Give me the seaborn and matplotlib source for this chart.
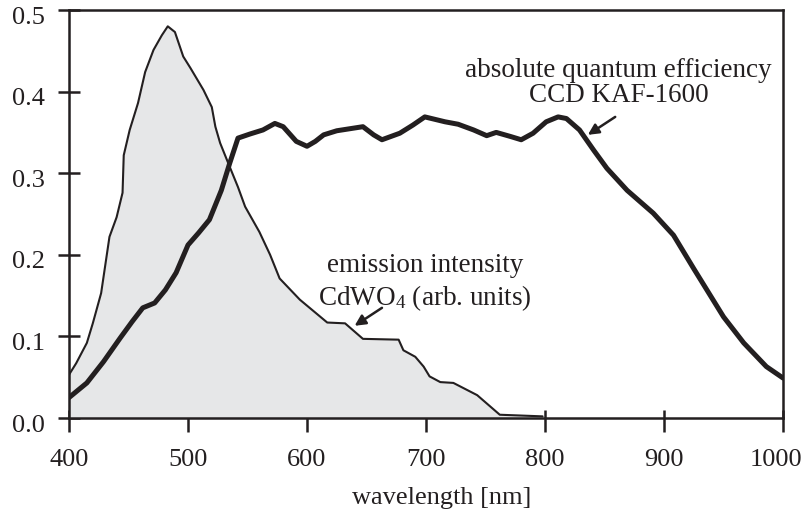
import matplotlib
matplotlib.use("Agg")
import matplotlib.pyplot as plt
import matplotlib.transforms as mtransforms
import seaborn as sns
import pandas as pd

# --- data ---
em_wl = [400, 406, 415, 420, 427, 434, 440, 445, 446, 451, 458, 464, 471, 478, 483,
         489, 496, 502, 513, 520, 523, 527, 535, 542, 548, 560, 569, 577, 594, 617,
         632, 647, 677, 681, 691, 698, 703, 712, 723, 743, 762, 798]
em_val = [0.053, 0.067, 0.092, 0.116, 0.153, 0.222, 0.246, 0.276, 0.322, 0.353, 0.386,
          0.424, 0.451, 0.469, 0.480, 0.473, 0.443, 0.429, 0.402, 0.381, 0.357, 0.337,
          0.308, 0.283, 0.259, 0.228, 0.200, 0.171, 0.145, 0.117, 0.116, 0.097, 0.096,
          0.083, 0.075, 0.063, 0.051, 0.044, 0.043, 0.028, 0.004, 0.002]

qe_wl = [400, 415, 429, 443, 453, 462, 472, 481, 490, 500, 509, 518, 528, 535, 542,
         552, 563, 573, 580, 591, 600, 607, 614, 625, 647, 656, 663, 678, 689, 699,
         716, 727, 740, 751, 759, 771, 780, 790, 801, 811, 818, 829, 841, 852, 869,
         891, 908, 925, 950, 967, 986, 1000]
qe_val = [0.025, 0.043, 0.069, 0.098, 0.118, 0.135, 0.141, 0.157, 0.178, 0.212, 0.227,
          0.243, 0.279, 0.312, 0.343, 0.348, 0.353, 0.361, 0.357, 0.339, 0.333, 0.339,
          0.347, 0.352, 0.357, 0.347, 0.341, 0.349, 0.359, 0.369, 0.363, 0.360, 0.353,
          0.346, 0.350, 0.345, 0.341, 0.349, 0.363, 0.369, 0.367, 0.353, 0.328, 0.306,
          0.279, 0.251, 0.224, 0.183, 0.124, 0.092, 0.063, 0.049]

x_ticks = [400, 500, 600, 700, 800, 900, 1000]
y_ticks = [0.0, 0.1, 0.2, 0.3, 0.4, 0.5]
x_label = "wavelength [nm]"

INK = "#231f20"
FILL = "#e6e7e8"

sns.set_style("ticks")
plt.rcParams["font.family"] = ["Liberation Serif", "DejaVu Serif"]
plt.rcParams["mathtext.fontset"] = "custom"
plt.rcParams["mathtext.rm"] = "Liberation Serif"
plt.rcParams["mathtext.it"] = "Liberation Serif:italic"
plt.rcParams["text.color"] = INK
plt.rcParams["axes.labelcolor"] = INK

em_df = pd.DataFrame({"wl": em_wl, "val": em_val})
qe_df = pd.DataFrame({"wl": qe_wl, "val": qe_val})

fig = plt.figure(figsize=(8.04, 5.15), dpi=100)
ax = fig.add_axes([69 / 804, 1 - 418 / 515, (783 - 69) / 804, (418 - 10) / 515])

ax.fill_between(em_df["wl"], 0, em_df["val"], color=FILL, lw=0, zorder=1)
sns.lineplot(data=em_df, x="wl", y="val", ax=ax, color=INK, lw=1.5,
             sort=False, estimator=None, zorder=2)
sns.lineplot(data=qe_df, x="wl", y="val", ax=ax, color=INK, lw=3.6,
             sort=False, estimator=None, zorder=3)

ax.set_xlim(400, 1000)
ax.set_ylim(0, 0.5)
ax.set_xticks(x_ticks)
ax.set_xticks(x_ticks, minor=True)
ax.xaxis.remove_overlapping_locs = False
ax.set_yticks(y_ticks)
ax.set_yticklabels([f"{v:.1f}" for v in y_ticks])
ax.set_xlabel(x_label, fontsize=19)
ax.set_ylabel("")
ax.xaxis.set_label_coords((442 - 69) / (783 - 69), -0.17)

for s in ax.spines.values():
    s.set_linewidth(1.8)
    s.set_color(INK)
ax.tick_params(axis="y", direction="inout", length=16, width=1.8, color=INK,
               labelsize=19, labelcolor=INK, pad=9.4)
ax.tick_params(axis="x", which="major", direction="out", length=10, width=1.8,
               color=INK, labelsize=19, labelcolor=INK, pad=12)
ax.tick_params(axis="x", which="minor", direction="in", length=5.8, width=1.8,
               color=INK, labelbottom=False)

# small label nudges as in the reference
down = mtransforms.ScaledTranslation(0, -5 / 100, fig.dpi_scale_trans)
for lab in ax.get_yticklabels():
    lab.set_transform(lab.get_transform() + down)
left = mtransforms.ScaledTranslation(-7 / 100, 0, fig.dpi_scale_trans)
last = ax.get_xticklabels()[-1]
last.set_transform(last.get_transform() + left)

fs = 19.5
ax.text(862, 0.426, "absolute quantum efficiency", ha="center", va="center", fontsize=fs)
ax.text(862, 0.395, "CCD KAF-1600", ha="center", va="center", fontsize=fs)
ax.text(699, 0.1875, "emission intensity", ha="center", va="center", fontsize=fs)
ax.text(699, 0.147, "CdWO$_4$ (arb. units)", ha="center", va="center", fontsize=fs)

arrow = dict(arrowstyle="-|>", lw=1.8, color=INK, mutation_scale=16,
             shrinkA=0, shrinkB=0)
ax.annotate("", xy=(836, 0.347), xytext=(859, 0.369), arrowprops=arrow)
ax.annotate("", xy=(640, 0.113), xytext=(663, 0.135), arrowprops=arrow)

fig.savefig("out.png", dpi=100)
